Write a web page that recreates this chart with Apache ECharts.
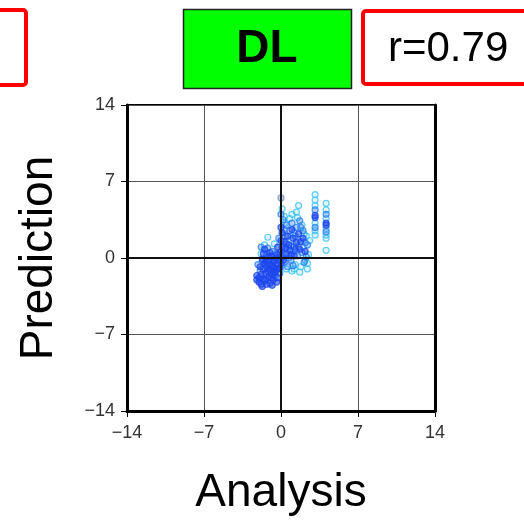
<!DOCTYPE html>
<html>
<head>
<meta charset="utf-8">
<script src="https://cdn.jsdelivr.net/npm/echarts@6/dist/echarts.min.js"></script>
<style>
  html, body { margin: 0; padding: 0; background: #fff; }
  #chart { width: 524px; height: 521px; }
</style>
</head>
<body>
<div id="chart"></div>
<script>
// axis range and ticks
const axisMin = -14
const axisMax = 14
const axisStep = 7

const panelLabel = 'DL'
const corrLabel = 'r=0.79'

// [analysis, prediction] pairs
const darkPts = [
  [-2.0, -1.8], [-2.0, -2.2], [-1.8, -1.5], [-1.8, -2.4], [-1.6, -1.0], [-1.6, -1.9],
  [-1.5, -0.5], [-1.4, -1.4], [-1.4, -2.0], [-1.3, -0.8], [-1.2, -1.2], [-1.2, -0.2],
  [-1.1, -1.7], [-1.0, -0.6], [-1.0, -2.3], [-0.9, -1.0], [-0.9, 0.2], [-0.8, -1.5],
  [-0.7, -0.4], [-0.7, -2.0], [-0.6, -0.9], [-0.5, -1.3], [-0.5, 0.0], [-0.4, -0.6],
  [-0.3, -1.8], [-0.2, -0.2], [-0.2, -1.0], [-0.1, 0.5], [0.0, -0.5], [0.0, 0.0],
  [0.1, 1.0], [0.0, 2.8], [0.1, 2.3], [0.3, 1.5], [0.5, 0.4], [0.7, 1.2], [0.9, 0.3],
  [1.1, 1.8], [1.3, 0.8], [1.6, 2.2], [1.8, 1.5], [2.2, 0.6], [3.1, 3.7], [3.1, 3.9],
  [4.1, 3.2], [4.1, 3.0], [-1.5, 0.8], [-1.0, 0.5], [-0.3, 1.0], [-1.7, -2.6],
  [-0.8, -2.5], [-1.3, -2.4], [-0.4, -2.2], [-2.2, -1.6], [-2.2, -2.0], [-1.9, -0.8],
  [-1.7, -0.1], [-1.6, 0.4], [-1.4, -0.3], [-1.1, -1.0], [-1.1, 0.1], [-0.9, -1.8],
  [-0.8, -0.7], [-0.6, -0.2], [-0.6, -1.3], [-0.4, -1.0], [-0.3, 0.3], [-0.1, -0.9],
  [0.0, 1.6], [0.2, -0.2], [0.4, 0.9], [0.6, 2.0], [0.8, 0.7], [1.0, 2.6], [1.2, 0.2],
  [1.4, 1.4], [1.7, 0.8], [2.0, 1.8]
]
const midPts = [
  [-1.9, -1.2], [-1.7, -0.3], [-1.5, -2.1], [-1.3, 0.3], [-1.1, -0.3], [-0.8, 0.6],
  [-0.6, -1.6], [-0.4, 0.4], [-0.1, -1.4], [0.2, 0.4], [0.3, -0.4], [0.4, 2.0],
  [0.5, 3.0], [0.6, -0.8], [0.8, 2.5], [0.9, -0.2], [1.0, 3.2], [1.2, 1.0], [1.4, 2.8],
  [1.5, 0.2], [1.7, 3.4], [1.9, 0.5], [2.0, 2.5], [2.1, -0.4], [2.4, 1.2], [0.0, 4.0],
  [0.2, 3.5], [-0.2, 1.8], [3.1, 2.8], [3.1, 4.4], [4.1, 2.4], [4.1, 4.0], [1.6, 1.0],
  [0.7, 0.0], [-2.1, -0.6], [-1.8, 1.0], [-1.2, 0.9], [0.3, 2.6], [0.5, 1.3],
  [0.9, 1.1], [1.1, -0.7], [1.3, 2.0], [1.8, 2.8], [2.2, 1.4], [2.3, 0.1]
]
const lightPts = [
  [-1.8, 0.4], [-1.5, 1.2], [-1.2, 1.9], [-0.6, 1.3], [0.3, 3.8], [0.5, -1.0], [0.6, 1.0],
  [0.8, 3.6], [1.0, -1.2], [1.1, 0.6], [1.2, 2.3], [1.3, -0.6], [1.4, 4.2], [1.5, 1.6],
  [1.6, 4.8], [1.8, -0.8], [1.9, 3.0], [2.0, 1.0], [2.2, -0.2], [2.3, 2.0], [2.4, -1.0],
  [2.5, 0.3], [2.6, 1.6], [1.7, -1.3], [0.9, 1.7], [3.1, 2.1], [3.1, 2.5], [3.1, 3.2],
  [3.1, 4.8], [3.1, 5.3], [3.1, 5.8], [4.1, 0.7], [4.1, 1.8], [4.1, 2.1], [4.1, 2.7],
  [4.1, 3.6], [4.1, 4.4], [4.1, 5.0], [0.1, 4.5], [0.4, 3.2], [1.0, 4.0], [1.5, 3.7],
  [2.1, 2.2], [2.4, -0.5], [1.2, -1.0]
]
const grayPts = [[0.0, 5.5]]

const tickFont = '"Liberation Sans", Arial, sans-serif'
const minusFmt = v => (v < 0 ? '\u2212' + Math.abs(v) : String(v))

function dots (data, color, fill) {
  return {
    type: 'scatter',
    data: data,
    symbol: 'circle',
    symbolSize: 6,
    silent: true,
    itemStyle: { color: fill, borderColor: color, borderWidth: 1.2 }
  }
}

const chart = echarts.init(document.getElementById('chart'))
chart.setOption({
  animation: false,
  grid: {
    left: 127, top: 105, width: 308, height: 310,
    show: true, borderColor: '#000', borderWidth: 2, backgroundColor: '#fff'
  },
  xAxis: {
    type: 'value', min: axisMin, max: axisMax, interval: axisStep,
    name: 'Analysis', nameLocation: 'middle', nameGap: 59,
    nameTextStyle: { fontSize: 46, color: '#000', fontFamily: tickFont },
    axisLine: { onZero: false, lineStyle: { color: '#000', width: 3 } },
    axisTick: { show: true, length: 6, lineStyle: { color: '#000', width: 1 } },
    axisLabel: { fontSize: 18, color: '#333', margin: 13, fontFamily: tickFont, formatter: minusFmt },
    splitLine: { show: true, lineStyle: { color: '#555', width: 1 } }
  },
  yAxis: [{
    type: 'value', min: axisMin, max: axisMax, interval: axisStep,
    name: 'Prediction', nameLocation: 'middle', nameGap: 65,
    nameTextStyle: { fontSize: 46, color: '#000', fontFamily: tickFont },
    axisLine: { onZero: false, lineStyle: { color: '#000', width: 3 } },
    axisTick: { show: true, length: 6, lineStyle: { color: '#000', width: 1 } },
    axisLabel: { fontSize: 18, color: '#333', margin: 12, fontFamily: tickFont, formatter: minusFmt },
    splitLine: { show: true, lineStyle: { color: '#555', width: 1 } }
  }, {
    type: 'value', position: 'right', min: axisMin, max: axisMax, interval: axisStep,
    axisLine: { show: true, onZero: false, lineStyle: { color: '#000', width: 3 } },
    axisTick: { show: false }, axisLabel: { show: false }, splitLine: { show: false }
  }],
  series: [
    {
      type: 'scatter', data: [], silent: true,
      markLine: {
        silent: true, symbol: ['none', 'none'], label: { show: false },
        lineStyle: { color: '#111', width: 2, type: 'solid' },
        data: [{ xAxis: 0 }, { yAxis: 0 }]
      }
    },
    dots(lightPts, '#3cc3f2', 'rgba(60,195,242,0.2)'),
    dots(midPts, '#2a7ff2', 'rgba(42,127,242,0.45)'),
    dots(darkPts, '#1d46ee', 'rgba(29,70,238,0.7)'),
    dots(grayPts, '#7d8fb8', 'rgba(125,143,184,0.5)')
  ],
  graphic: [
    { type: 'rect', shape: { x: -10, y: 10, width: 36, height: 75, r: 3 },
      style: { fill: '#fff', stroke: '#ff0000', lineWidth: 4 } },
    { type: 'rect', shape: { x: 183.5, y: 9.5, width: 168, height: 79 },
      style: { fill: '#00ff00', stroke: '#222', lineWidth: 1.5 } },
    { type: 'text', x: 267, y: 49,
      style: { text: panelLabel, fill: '#000', font: 'bold 46px "Liberation Sans", Arial, sans-serif',
        textAlign: 'center', textVerticalAlign: 'middle' } },
    { type: 'rect', shape: { x: 363, y: 11, width: 180, height: 73, r: 3 },
      style: { fill: '#fff', stroke: '#ff0000', lineWidth: 4 } },
    { type: 'text', x: 388, y: 49,
      style: { text: corrLabel, fill: '#000', font: '42px "Liberation Sans", Arial, sans-serif',
        textAlign: 'left', textVerticalAlign: 'middle' } },
    // the source image cuts off the bottom of the x tick labels
    { type: 'rect', z: 100, shape: { x: 90, y: 442, width: 370, height: 14 },
      style: { fill: '#fff' } }
  ]
})
</script>
</body>
</html>
